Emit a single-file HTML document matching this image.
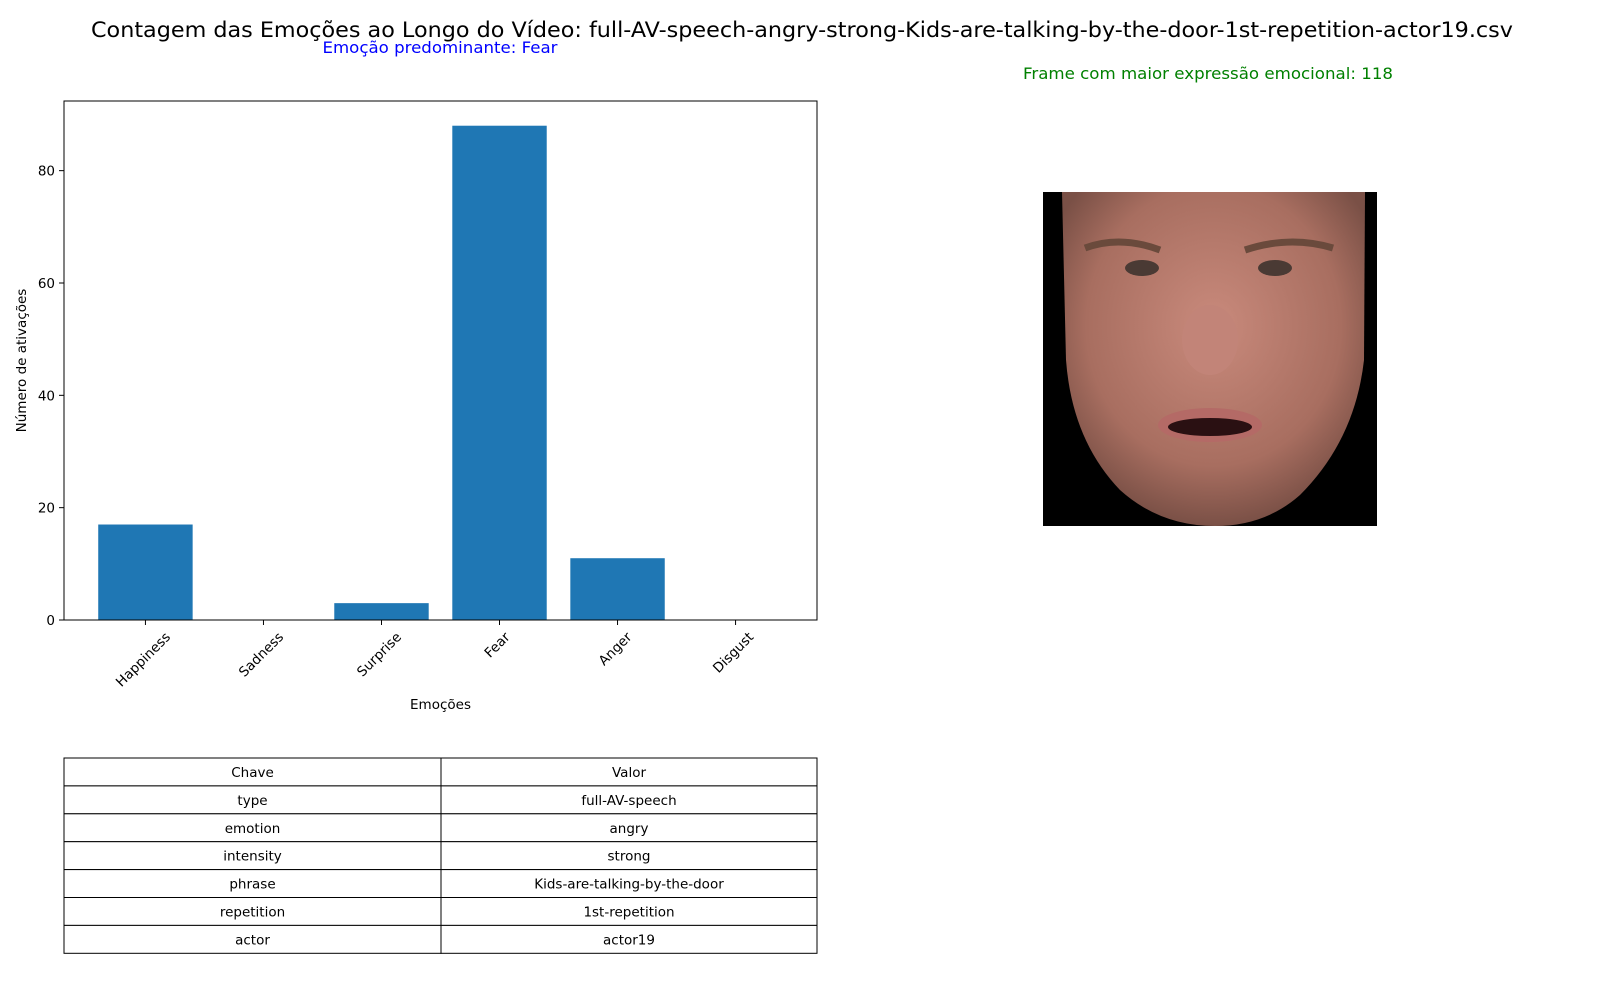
<!DOCTYPE html>
<html><head><meta charset="utf-8"><style>
body{margin:0;background:#fff;width:1600px;height:1000px;overflow:hidden}
svg{font-family:"DejaVu Sans","Liberation Sans",sans-serif}
</style></head><body>
<svg id="fig" width="1600" height="1000">
<text x="802" y="37" font-size="21" text-anchor="middle" textLength="1422" lengthAdjust="spacingAndGlyphs">Contagem das Emoções ao Longo do Vídeo: full-AV-speech-angry-strong-Kids-are-talking-by-the-door-1st-repetition-actor19.csv</text>
<text x="440" y="53" font-size="16" fill="blue" text-anchor="middle" textLength="235" lengthAdjust="spacingAndGlyphs">Emoção predominante: Fear</text>
<text x="1208" y="79" font-size="16" fill="green" text-anchor="middle" textLength="370" lengthAdjust="spacingAndGlyphs">Frame com maior expressão emocional: 118</text>
<g id="chart"></g>
<g id="tbl"></g>
<g>
<defs>
<radialGradient id="skin" cx="50%" cy="40%" r="60%"><stop offset="0" stop-color="#c98a7c"/><stop offset="0.7" stop-color="#a86e60"/><stop offset="1" stop-color="#7a5046"/></radialGradient>
</defs>
<rect x="1043" y="192" width="334" height="334" fill="#000"/>
<path d="M1062 192 L1365 192 L1364 360 Q1355 440 1300 495 Q1265 526 1215 526 Q1160 526 1120 490 Q1072 440 1066 360 Z" fill="url(#skin)"/>
<path d="M1085 248 Q1120 235 1160 250" stroke="#6a4a3c" stroke-width="7" fill="none"/>
<path d="M1245 250 Q1290 235 1333 248" stroke="#6a4a3c" stroke-width="7" fill="none"/>
<ellipse cx="1142" cy="268" rx="17" ry="8" fill="#4a3a34"/>
<ellipse cx="1275" cy="268" rx="17" ry="8" fill="#4a3a34"/>
<ellipse cx="1210" cy="340" rx="28" ry="35" fill="#c28478"/>
<ellipse cx="1210" cy="425" rx="52" ry="17" fill="#b46a66"/>
<ellipse cx="1210" cy="427" rx="42" ry="9" fill="#2a1012"/>
</g>
</svg>
<script>
const categories=["Happiness","Sadness","Surprise","Fear","Anger","Disgust"];
const counts=[17,0,3,88,11,0];
const yTicks=[0,20,40,60,80];
const tableKeys=["type","emotion","intensity","phrase","repetition","actor"];
const tableVals=["full-AV-speech","angry","strong","Kids-are-talking-by-the-door","1st-repetition","actor19"];
const NS="http://www.w3.org/2000/svg";
function mk(t,a,p,txt){const e=document.createElementNS(NS,t);for(const k in a)e.setAttribute(k,a[k]);if(txt!==undefined)e.textContent=txt;p.appendChild(e);return e;}
const L=64,R=817,T=101,B=620;
const n=categories.length;
const xmin=-0.4-0.05*(n-1+0.8),xmax=n-1+0.4+0.05*(n-1+0.8);
const ymax=Math.max(...counts)*1.05;
const xs=v=>L+(v-xmin)/(xmax-xmin)*(R-L);
const ys=v=>B-v/ymax*(B-T);
const g=document.getElementById('chart');
counts.forEach((c,i)=>{
 const r=mk('rect',{x:xs(i-0.4),y:ys(c),width:xs(0.4)-xs(-0.4),height:B-ys(c),fill:'#1f77b4'},g);
 
 
 mk('line',{x1:xs(i),x2:xs(i),y1:B,y2:B+5,stroke:'#000'},g);
 const t=mk('text',{x:0,y:0,'font-size':13.5,'text-anchor':'middle','dominant-baseline':'central'},g,categories[i]);
 
 
 const w=t.getComputedTextLength(),h=14;
 t.setAttribute('transform',`translate(${xs(i)-2},${B+10+(w+h)*0.354}) rotate(-45)`);
});
yTicks.forEach(v=>{
 mk('line',{x1:L-5,x2:L,y1:ys(v),y2:ys(v),stroke:'#000'},g);
 const t=mk('text',{x:L-9,y:ys(v)+5,'font-size':13.5,'text-anchor':'end'},g,v);
 
 
});
const ax=mk('rect',{x:L,y:T,width:R-L,height:B-T,fill:'none',stroke:'#000'},g);


const xl=mk('text',{x:(L+R)/2,y:709,'font-size':13.5,'text-anchor':'middle'},g,'Emoções');


const yl=mk('text',{x:0,y:0,'font-size':13.5,'text-anchor':'middle',transform:`translate(26,${(T+B)/2}) rotate(-90)`},g,'Número de ativações');


const tb=document.getElementById('tbl');
const rows=[["Chave","Valor"]].concat(tableKeys.map((k,i)=>[k,tableVals[i]]));
const tT=758,rh=27.9,mid=441;
rows.forEach((r,i)=>{
 const y=tT+i*rh;
 mk('rect',{x:L,y:y,width:mid-L,height:rh,fill:'#fff',stroke:'#000'},tb);
 mk('rect',{x:mid,y:y,width:R-mid,height:rh,fill:'#fff',stroke:'#000'},tb);
 const a=mk('text',{x:(L+mid)/2,y:y+19,'font-size':13.5,'text-anchor':'middle'},tb,r[0]);
 
 
 const b=mk('text',{x:(mid+R)/2,y:y+19,'font-size':13.5,'text-anchor':'middle'},tb,r[1]);
 
 
});
</script>
</body></html>
